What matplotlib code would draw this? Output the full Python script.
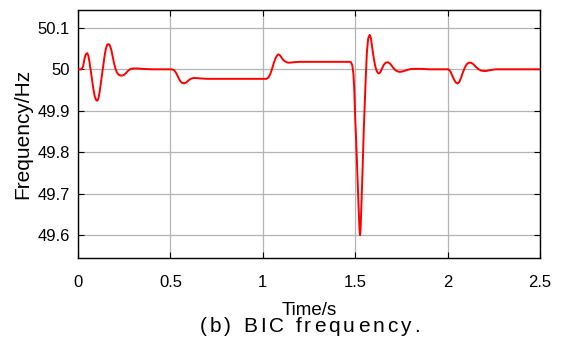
import matplotlib.pyplot as plt

plt.rcParams["font.family"] = ["Liberation Sans", "DejaVu Sans"]

# BIC frequency response (time in s, frequency in Hz)
t = [0.000, 0.020, 0.028, 0.035, 0.042, 0.050, 0.056, 0.062, 0.068, 0.075,
     0.083, 0.091, 0.098, 0.104, 0.110, 0.117, 0.124, 0.131, 0.137, 0.144,
     0.151, 0.158, 0.165, 0.172, 0.180, 0.188, 0.196, 0.203, 0.211, 0.220,
     0.230, 0.240, 0.250, 0.260, 0.272, 0.285, 0.300, 0.320, 0.350, 0.400,
     0.500, 0.507, 0.520, 0.530, 0.540, 0.550, 0.560, 0.574, 0.585, 0.597,
     0.610, 0.625, 0.640, 0.660, 0.700, 0.800, 0.900, 1.000, 1.020, 1.030,
     1.040, 1.050, 1.060, 1.070, 1.078, 1.084, 1.092, 1.100, 1.110, 1.120,
     1.135, 1.147, 1.165, 1.200, 1.300, 1.400, 1.470, 1.477, 1.484, 1.490,
     1.495, 1.500, 1.505, 1.512, 1.518, 1.523, 1.526, 1.529, 1.535, 1.540,
     1.546, 1.551, 1.557, 1.563, 1.570, 1.578, 1.585, 1.592, 1.600, 1.608,
     1.616, 1.623, 1.629, 1.636, 1.645, 1.655, 1.665, 1.679, 1.690, 1.705,
     1.720, 1.735, 1.748, 1.765, 1.785, 1.805, 1.825, 1.860, 1.900, 2.000,
     2.004, 2.015, 2.025, 2.035, 2.045, 2.054, 2.063, 2.073, 2.083, 2.093,
     2.103, 2.114, 2.125, 2.138, 2.150, 2.165, 2.180, 2.195, 2.210, 2.230,
     2.260, 2.300, 2.500]
freq = [50.000, 50.000, 50.008, 50.025, 50.036, 50.039, 50.033, 50.018, 50.000, 49.978,
        49.953, 49.934, 49.926, 49.924, 49.929, 49.945, 49.968, 49.990, 50.010, 50.033,
        50.050, 50.059, 50.061, 50.058, 50.047, 50.030, 50.013, 50.001, 49.992, 49.987,
        49.985, 49.985, 49.987, 49.991, 49.997, 50.001, 50.002, 50.002, 50.001, 50.000,
        50.000, 50.000, 49.998, 49.992, 49.983, 49.974, 49.968, 49.966, 49.968, 49.973,
        49.977, 49.979, 49.979, 49.978, 49.977, 49.977, 49.977, 49.977, 49.977, 49.980,
        49.988, 50.001, 50.016, 50.028, 50.034, 50.036, 50.034, 50.029, 50.023, 50.019,
        50.016, 50.016, 50.017, 50.018, 50.018, 50.018, 50.018, 50.017, 50.010, 49.990,
        49.950, 49.880, 49.830, 49.740, 49.670, 49.615, 49.600, 49.612, 49.690, 49.760,
        49.850, 49.910, 49.980, 50.040, 50.074, 50.083, 50.075, 50.052, 50.028, 50.008,
        49.996, 49.991, 49.990, 49.993, 50.002, 50.011, 50.016, 50.017, 50.013, 50.004,
        49.997, 49.994, 49.994, 49.996, 49.999, 50.001, 50.001, 50.001, 50.000, 50.000,
        50.000, 49.995, 49.985, 49.975, 49.968, 49.966, 49.969, 49.980, 49.993, 50.004,
        50.012, 50.016, 50.016, 50.013, 50.007, 50.001, 49.997, 49.996, 49.996, 49.998,
        50.000, 50.000, 50.000]

xticks = [0, 0.5, 1, 1.5, 2, 2.5]
xtick_labels = ["0", "0.5", "1", "1.5", "2", "2.5"]
yticks = [49.6, 49.7, 49.8, 49.9, 50.0, 50.1]
ytick_labels = ["49.6", "49.7", "49.8", "49.9", "50", "50.1"]
caption = "(b) BIC frequency."

W, H = 562, 340
fig = plt.figure(figsize=(W / 100, H / 100), dpi=100)
ax = fig.add_axes([0.1388, 0.2412, 0.8221, 0.7294])

ax.plot(t, freq, color="#ff0000", linewidth=1.4, zorder=3)

ax.set_xlim(0, 2.5)
ax.set_ylim(49.545, 50.143)
ax.set_xticks(xticks)
ax.set_xticklabels(xtick_labels)
ax.set_yticks(yticks)
ax.set_yticklabels(ytick_labels)

ax.grid(True, color="#b4b4b4", linewidth=0.9, linestyle="-")
ax.set_axisbelow(True)
ax.tick_params(direction="in", length=4, width=0.8, top=True, right=True,
               labelsize=12, colors="black")
ax.tick_params(axis="x", pad=12)
ax.tick_params(axis="y", pad=6)
for s in ax.spines.values():
    s.set_linewidth(1.0)

ax.set_xlabel("Time/s", fontsize=13.5, va="baseline")
ax.set_ylabel("Frequency/Hz", fontsize=15)
ax.xaxis.set_label_coords(0.5, -0.23)
ax.yaxis.set_label_coords(-0.10, 0.5)

# caption drawn letter by letter with a little extra tracking
renderer = fig.canvas.get_renderer()
cap_size = 15
cap_left, cap_right = 200, 418


def text_width(s):
    tx = fig.text(0, 0, s, fontsize=cap_size)
    w = tx.get_window_extent(renderer).width
    tx.remove()
    return w


bar_w = text_width("|")
n = len(caption)
tracking = (cap_right - cap_left - text_width(caption)) / (n - 1)
for i, ch in enumerate(caption):
    if ch == " ":
        continue
    off = text_width(caption[:i] + "|") - bar_w if i else 0.0
    fig.text((cap_left + off + tracking * i) / W, 1 - 332.5 / H, ch,
             fontsize=cap_size, ha="left", va="baseline")

fig.savefig("out.png", dpi=100)
